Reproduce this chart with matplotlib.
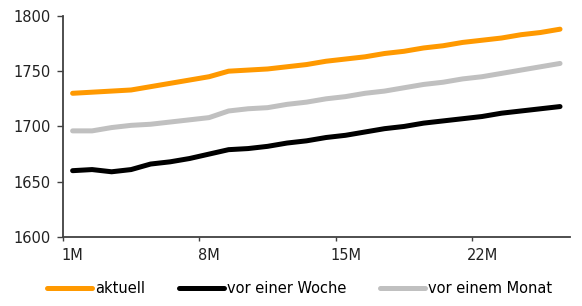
import numpy as np
import matplotlib.pyplot as plt

plt.rcParams['font.family'] = ['DejaVu Sans']

# --- Daten ---
laufzeiten = [f'{i}M' for i in range(1, 27)]
aktuell = [1730, 1731, 1732, 1733, 1736, 1739, 1742, 1745, 1750, 1751,
           1752, 1754, 1756, 1759, 1761, 1763, 1766, 1768, 1771, 1773,
           1776, 1778, 1780, 1783, 1785, 1788]
vor_woche = [1660, 1661, 1659, 1661, 1666, 1668, 1671, 1675, 1679, 1680,
             1682, 1685, 1687, 1690, 1692, 1695, 1698, 1700, 1703, 1705,
             1707, 1709, 1712, 1714, 1716, 1718]
vor_monat = [1696, 1696, 1699, 1701, 1702, 1704, 1706, 1708, 1714, 1716,
             1717, 1720, 1722, 1725, 1727, 1730, 1732, 1735, 1738, 1740,
             1743, 1745, 1748, 1751, 1754, 1757]
beschriftet = ['1M', '8M', '15M', '22M']

x = np.arange(len(laufzeiten))

fig = plt.figure(figsize=(5.82, 3.06), dpi=100)
ax = fig.add_axes([0.108, 0.2255, 0.871, 0.7225])

ax.plot(x, aktuell, color='#ff9900', lw=3.6, solid_capstyle='round', label='aktuell')
ax.plot(x, vor_woche, color='black', lw=3.6, solid_capstyle='round', label='vor einer Woche')
ax.plot(x, vor_monat, color='#c0c0c0', lw=3.6, solid_capstyle='round', label='vor einem Monat')

ax.set_xlim(-0.5, len(laufzeiten) - 0.5)
ax.set_ylim(1600, 1800)
ax.set_yticks([1600, 1650, 1700, 1750, 1800])

# Kategorie-Achse: Striche zwischen den Kategorien, Beschriftung in der Mitte
pos = [laufzeiten.index(b) for b in beschriftet]
ax.set_xticks([p - 0.5 for p in pos])
ax.set_xticklabels([])
ax.set_xticks(pos, minor=True)
ax.set_xticklabels(beschriftet, minor=True)
ax.tick_params(axis='x', which='minor', length=0, pad=8)
ax.tick_params(axis='x', which='major', length=3, width=1, color='#404040')
ax.tick_params(axis='y', length=4, width=1, color='#404040', pad=5)
ax.tick_params(which='both', labelsize=10.5, labelcolor='#222222')

for s in ['top', 'right']:
    ax.spines[s].set_visible(False)
for s in ['left', 'bottom']:
    ax.spines[s].set_color('#404040')
    ax.spines[s].set_linewidth(1.3)

fig.legend(loc='lower center', bbox_to_anchor=(0.515, -0.01), ncol=3, frameon=False,
           fontsize=10.5, handlelength=3.1, handletextpad=0.2, columnspacing=2.3)

plt.savefig('out.png')
